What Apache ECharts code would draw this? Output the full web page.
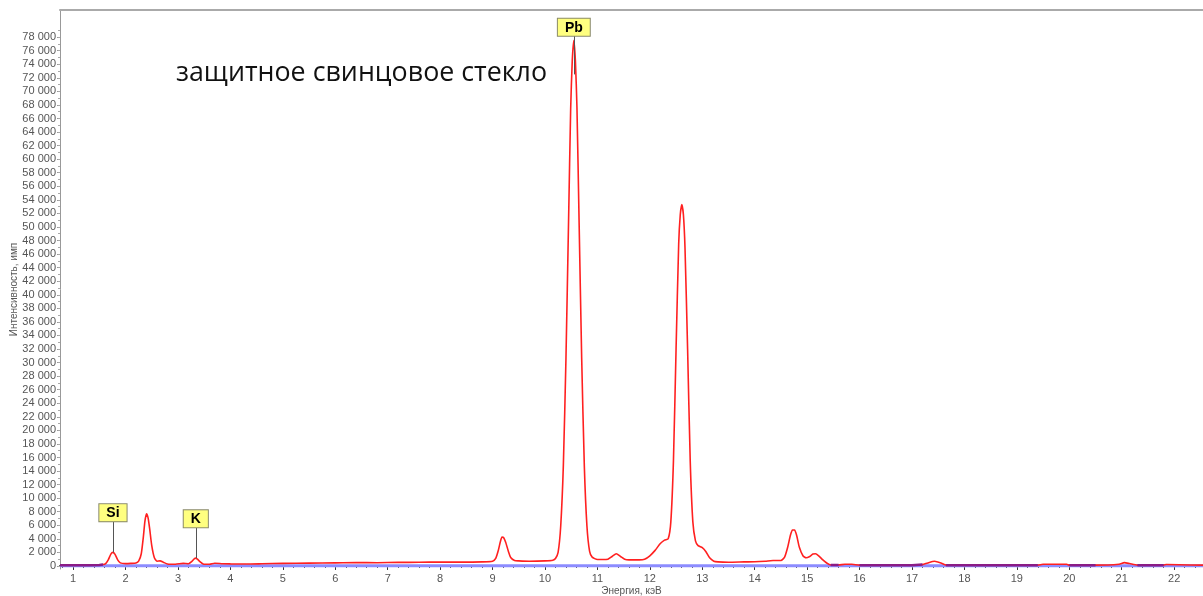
<!DOCTYPE html>
<html>
<head>
<meta charset="utf-8">
<script src="https://cdn.jsdelivr.net/npm/echarts@6/dist/echarts.min.js"></script>
<style>
html,body{margin:0;padding:0;background:#fff;}
#c{width:1203px;height:596px;}
</style>
</head>
<body>
<div id="c"></div>
<script>
// ---- data ----
const energy = [0.75,1.0,1.3,1.5,1.57,1.62,1.67,1.72,1.76,1.80,1.85,1.9,2.0,2.1,2.2,2.25,2.30,2.34,2.37,2.40,2.43,2.46,2.50,2.55,2.6,2.66,2.72,2.8,2.95,3.1,3.2,3.27,3.31,3.34,3.37,3.41,3.48,3.6,3.7,3.85,4.0,4.3,4.6,5.0,5.5,6.0,6.4,6.8,7.2,7.6,8.0,8.4,8.8,9.0,9.06,9.11,9.15,9.18,9.21,9.25,9.30,9.35,9.42,9.5,9.7,10.0,10.15,10.20,10.25,10.30,10.35,10.40,10.45,10.49,10.52,10.55,10.58,10.61,10.65,10.70,10.75,10.80,10.85,10.90,11.0,11.1,11.2,11.28,11.36,11.44,11.52,11.6,11.8,11.9,12.0,12.1,12.2,12.28,12.35,12.40,12.45,12.50,12.55,12.58,12.61,12.64,12.67,12.72,12.77,12.82,12.87,12.92,13.0,13.07,13.14,13.22,13.3,13.5,13.8,14.0,14.2,14.35,14.5,14.57,14.63,14.68,14.72,14.76,14.80,14.85,14.92,14.98,15.05,15.11,15.16,15.22,15.3,15.38,15.45,15.6,15.72,15.85,16.0,16.5,17.0,17.2,17.3,17.43,17.55,17.65,17.8,18.5,19.4,19.5,19.95,20.0,20.5,20.95,21.05,21.15,21.3,21.8,21.85,22.55];
const counts = [120,120,120,140,200,350,900,1750,2000,1700,900,450,350,380,450,700,1800,4300,6600,7700,7100,5500,3000,1200,700,750,550,300,250,380,330,700,1050,1150,1000,700,300,250,400,330,300,280,320,380,420,450,500,480,520,540,580,560,600,700,1100,2300,3600,4250,4200,3500,2200,1200,800,750,700,750,850,1100,2000,5900,14800,30600,51000,67500,74500,77500,74500,67500,51000,30600,14800,5900,2200,1300,950,950,1000,1400,1800,1400,1000,900,900,1000,1500,2300,3300,3800,4000,6500,15500,32000,47500,51800,53300,51800,47000,32000,15500,6500,3700,3000,2700,2100,1200,700,600,550,600,620,700,800,800,1300,2800,4500,5300,5300,4500,2800,1500,1200,1400,1750,1800,1500,900,400,150,150,250,250,120,120,120,200,450,690,450,120,120,120,120,250,250,120,120,250,490,350,120,120,220,120];
const backgroundE = [0.75, 22.55];
const backgroundV = [30, 30];
const xTickLabels = [1,2,3,4,5,6,7,8,9,10,11,12,13,14,15,16,17,18,19,20,21,22];
const yTickLabels = [];
for (let v = 0; v <= 78000; v += 2000) yTickLabels.push(v);
const xMinorTicks = [];
for (let v = 0.8; v <= 22.55; v += 0.2) xMinorTicks.push(+v.toFixed(2));
const yMinorTicks = [];
for (let v = 0; v <= 79000; v += 1000) yMinorTicks.push(v);
const peakNames = ['Si', 'K', 'Pb'];
const peakEnergy = [1.76, 3.34, 10.55];
const markerFrom = [2000, 1150, 72500];
const markerTo = [6600, 5700, 78200];
const chartTitle = 'защитное свинцовое стекло';
const xName = 'Энергия, кэВ';
const yName = 'Интенсивность, имп';

// ---- build ----
const spectrum = energy.map((e, i) => [e, counts[i]]);
const overlap = energy.map((e, i) => [e, counts[i] <= 200 ? counts[i] : null]);
const background = backgroundE.map((e, i) => [e, backgroundV[i]]);
const fmt = v => String(v).replace(/\B(?=(\d{3})+(?!\d))/g, '\u00a0');

const XMIN = 0.75, XMAX = 22.55, YMIN = -450, YMAX = 82000;
const labelFont = {color: '#555', fontSize: 11, fontFamily: 'Liberation Sans'};

const markData = peakNames.map((n, i) => [
  {coord: [peakEnergy[i], markerFrom[i]]},
  {coord: [peakEnergy[i], markerTo[i]], label: {formatter: n}}
]);

const chart = echarts.init(document.getElementById('c'), null, {renderer: 'canvas'});
chart.setOption({
  animation: false,
  backgroundColor: '#fff',
  title: {
    text: chartTitle, left: 171, top: 55,
    textStyle: {fontFamily: 'Open Sans', fontSize: 26.8, fontWeight: 'normal', color: '#111'}
  },
  grid: {left: 60, top: 10, right: 0, bottom: 27, outerBoundsMode: 'none', containLabel: false},
  xAxis: [
    {
      type: 'value', min: XMIN, max: XMAX, position: 'bottom',
      name: xName, nameLocation: 'middle', nameGap: 17, nameMoveOverlap: false,
      nameTextStyle: {color: '#555', fontSize: 10, fontFamily: 'Liberation Sans'},
      axisLine: {show: true, lineStyle: {color: '#333', width: 2}},
      axisTick: {show: true, customValues: xTickLabels, length: 4, inside: false, lineStyle: {color: '#333'}},
      axisLabel: Object.assign({customValues: xTickLabels, margin: 4}, labelFont),
      splitLine: {show: false}
    },
    {
      type: 'value', min: XMIN, max: XMAX, position: 'bottom', offset: 0,
      axisLine: {show: false},
      axisTick: {show: true, customValues: xMinorTicks, length: 2, lineStyle: {color: '#555'}},
      axisLabel: {show: false}, splitLine: {show: false}
    },
    {
      type: 'value', min: XMIN, max: XMAX, position: 'top',
      axisLine: {show: true, lineStyle: {color: '#aaa', width: 2}},
      axisTick: {show: false}, axisLabel: {show: false}, splitLine: {show: false}
    }
  ],
  yAxis: [
    {
      type: 'value', min: YMIN, max: YMAX, position: 'left',
      name: yName, nameLocation: 'middle', nameGap: 41, nameMoveOverlap: false,
      nameTextStyle: {color: '#555', fontSize: 10, fontFamily: 'Liberation Sans'},
      axisLine: {show: true, lineStyle: {color: '#999', width: 1}},
      axisTick: {show: true, customValues: yTickLabels, length: 3, lineStyle: {color: '#999'}},
      axisLabel: Object.assign({customValues: yTickLabels, margin: 4, formatter: fmt}, labelFont),
      splitLine: {show: false}
    },
    {
      type: 'value', min: YMIN, max: YMAX, position: 'left', offset: 0,
      axisLine: {show: false},
      axisTick: {show: true, customValues: yMinorTicks, length: 2, lineStyle: {color: '#aaa'}},
      axisLabel: {show: false}, splitLine: {show: false}
    }
  ],
  series: [
    {
      type: 'line', data: background, symbol: 'none', silent: true,
      lineStyle: {color: '#8c8cff', width: 3}
    },
    {
      type: 'line', data: spectrum, symbol: 'none', smooth: 0.2,
      lineStyle: {color: '#ff2020', width: 1.6},
      markLine: {
        silent: true, symbol: 'none',
        lineStyle: {color: '#555', width: 1, type: 'solid'},
        label: {
          show: true, position: 'end', distance: 0,
          backgroundColor: '#ffff80', borderColor: '#8a8a6a', borderWidth: 1,
          padding: [2, 7, 1, 7], color: '#000', fontWeight: 'bold', fontSize: 14,
          fontFamily: 'Liberation Sans'
        },
        data: markData
      }
    },
    {
      type: 'line', data: overlap, symbol: 'none', connectNulls: false, silent: true,
      lineStyle: {color: '#8a1c86', width: 2.5}
    }
  ]
});
</script>
</body>
</html>
